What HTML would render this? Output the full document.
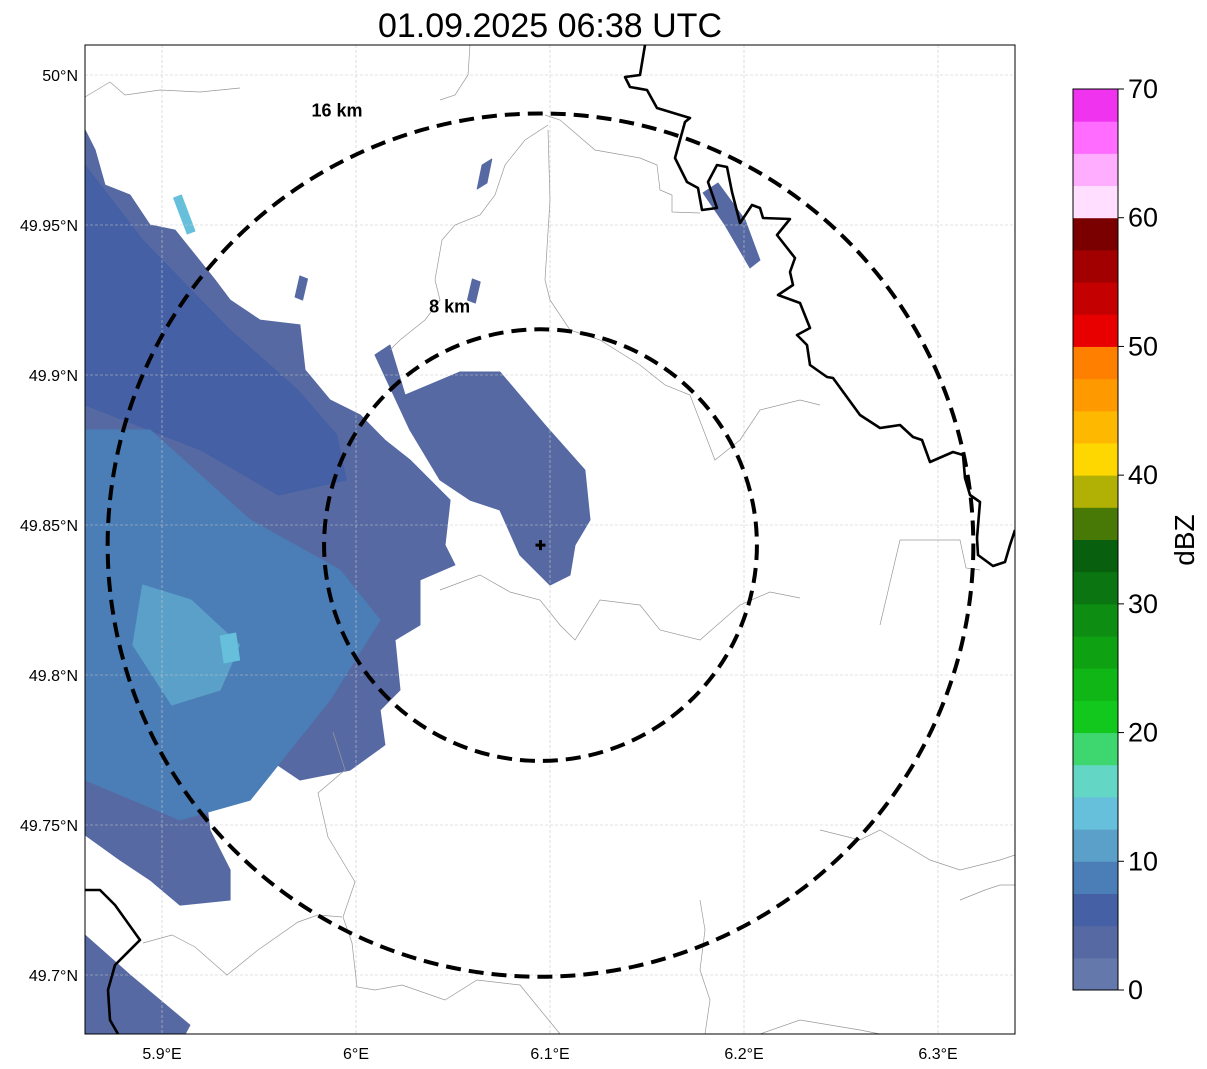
<!DOCTYPE html>
<html><head><meta charset="utf-8">
<style>
body{margin:0;background:#fff;width:1207px;height:1069px;overflow:hidden;font-family:"Liberation Sans",sans-serif;}
svg{position:absolute;left:0;top:0}
</style></head>
<body>
<svg id="chart" width="1207" height="1069" viewBox="0 0 1207 1069" xmlns="http://www.w3.org/2000/svg">
<text x="550" y="37" font-size="34" text-anchor="middle" font-family="Liberation Sans, sans-serif">01.09.2025 06:38 UTC</text>
<defs><clipPath id="mapclip"><rect x="85" y="45" width="930" height="989"/></clipPath></defs>
<g id="map" clip-path="url(#mapclip)"></g>
<rect x="85" y="45" width="930" height="989" fill="none" stroke="#000" stroke-width="1"/>
<g id="axes"></g>
<g id="cbar"></g>
</svg>
<script>
// ---- data ----
const lonTicks=[5.9,6.0,6.1,6.2,6.3];
const lonTickLabels=["5.9°E","6°E","6.1°E","6.2°E","6.3°E"];
const latTicks=[50,49.95,49.9,49.85,49.8,49.75,49.7];
const latTickLabels=["50°N","49.95°N","49.9°N","49.85°N","49.8°N","49.75°N","49.7°N"];
const cbarTicks=[0,10,20,30,40,50,60,70];
const cbarColors=["#6478ab","#5669a3","#4560a5","#4b7db6","#5aa0c8","#66c0dc","#63d6c6","#3ed76f","#13c81c","#10b516","#0ea212","#0e8d13","#0b7611","#08600e","#487906","#b0b005","#ffd700","#ffb800","#ff9900","#ff7f00","#e80000","#c40000","#a20000","#7a0000","#ffdeff","#ffadff","#ff6cff","#ef33ef"];
const radarCenter=[6.0951,49.8433];
const ringRadiiKm=[8,16];
// precipitation areas: dBZ values and lon/lat outlines
const areaValues=[3,3,3,3,6,8,11,3,3,3,14,14];
const areaLons=[
[5.8603,5.8655,5.8706,5.8835,5.8938,5.9067,5.9170,5.9273,5.9351,5.9505,5.9711,5.9737,5.9866,6.0021,6.0149,6.0278,6.0485,6.0459,6.0510,6.0330,6.0330,6.0201,6.0227,6.0124,6.0149,5.9969,5.9711,5.9557,5.9351,5.9222,5.9247,5.9351,5.9351,5.9093,5.8938,5.8784,5.8603],
[6.0098,6.0175,6.0253,6.0536,6.0742,6.0974,6.1180,6.1206,6.1129,6.1103,6.1000,6.0845,6.0742,6.0588,6.0433,6.0278],
[6.1789,6.1866,6.2005,6.2082,6.2031,6.1902],
[5.8603,5.8835,5.9144,5.9119,5.8603],
[5.8603,5.8900,5.9350,5.9700,5.9900,5.9950,5.9600,5.9200,5.8603],
[5.8603,5.8938,5.9454,5.9918,6.0124,5.9866,5.9454,5.9093,5.8603],
[5.8900,5.9150,5.9400,5.9300,5.9050,5.8850],
[6.0650,6.0700,6.0675,6.0625],
[5.9711,5.9750,5.9725,5.9686],
[6.0600,6.0640,6.0615,6.0575],
[5.9060,5.9100,5.9170,5.9130],
[5.9300,5.9380,5.9400,5.9320]
];
const areaLats=[
[49.9817,49.9750,49.9633,49.9600,49.9500,49.9483,49.9400,49.9317,49.9250,49.9183,49.9167,49.9017,49.8917,49.8867,49.8783,49.8717,49.8583,49.8433,49.8367,49.8317,49.8167,49.8117,49.7950,49.7883,49.7767,49.7683,49.7650,49.7717,49.7683,49.7617,49.7483,49.7350,49.7250,49.7233,49.7317,49.7383,49.7467],
[49.9067,49.9100,49.8933,49.9010,49.9010,49.8833,49.8683,49.8517,49.8433,49.8333,49.8300,49.8400,49.8550,49.8583,49.8650,49.8817],
[49.9607,49.9640,49.9517,49.9383,49.9357,49.9500],
[49.7133,49.7000,49.6833,49.6803,49.6803],
[49.9700,49.9450,49.9150,49.8950,49.8800,49.8650,49.8600,49.8750,49.8900],
[49.8817,49.8817,49.8517,49.8350,49.8183,49.7917,49.7583,49.7517,49.7650],
[49.8300,49.8250,49.8100,49.7950,49.7900,49.8100],
[49.9700,49.9720,49.9640,49.9620],
[49.9330,49.9320,49.9250,49.9260],
[49.9320,49.9310,49.9240,49.9250],
[49.9590,49.9600,49.9480,49.9470],
[49.8130,49.8140,49.8050,49.8040]
];
// ---- scales ----
const xOf=lon=>162+(lon-5.9)*1940;
const yOf=lat=>75+(50-lat)*3000;
const cbY=v=>990-(v/70)*901;
const NS="http://www.w3.org/2000/svg";
function mk(tag,parent,attrs){const e=document.createElementNS(NS,tag);for(const k in attrs)e.setAttribute(k,attrs[k]);parent.appendChild(e);return e;}
const map=document.getElementById('map');
const axes=document.getElementById('axes');
const cbar=document.getElementById('cbar');
function colorFor(v){return cbarColors[Math.max(0,Math.min(27,Math.floor(v/2.5)))];}
// precipitation
areaValues.forEach((v,i)=>{
  const pts=areaLons[i].map((lo,j)=>xOf(lo).toFixed(1)+','+yOf(areaLats[i][j]).toFixed(1)).join(' ');
  const p=mk('polygon',map,{points:pts,fill:colorFor(v),stroke:colorFor(v),'stroke-width':1,'stroke-linejoin':'round'});
  
  
});
// grid
lonTicks.forEach((t,i)=>{
  const g=mk('line',map,{x1:xOf(t),x2:xOf(t),y1:45,y2:1034,stroke:'#c8c8c8','stroke-width':0.6,'stroke-dasharray':'3,2'});
  
  
  const tx=mk('text',axes,{x:xOf(t),y:1059,'font-size':16,'text-anchor':'middle'});
  tx.textContent=lonTickLabels[i];
  
  
});
latTicks.forEach((t,i)=>{
  const g=mk('line',map,{x1:85,x2:1015,y1:yOf(t),y2:yOf(t),stroke:'#c8c8c8','stroke-width':0.6,'stroke-dasharray':'3,2'});
  
  
  const tx=mk('text',axes,{x:78,y:yOf(t)+6,'font-size':16,'text-anchor':'end'});
  tx.textContent=latTickLabels[i];
  
  
});
// gray admin borders (geography)
const grayPaths=[
"M85,97 L110,82 L125,95 L160,90 L200,92 L240,88",
"M470,45 L468,75 L455,95 L440,100",
"M548,125 L525,140 L505,165 L495,195 L480,215 L455,225 L442,240 L435,280 L440,300 L425,320 L400,340 L390,350",
"M545,115 L560,120 L595,150 L640,158 L657,165 L660,190 L672,195 L672,212 L700,213",
"M548,130 L550,200 L545,280 L550,300 L570,330 L600,340 L640,365 L665,385 L690,395 L715,460 L740,440 L760,410 L800,400 L820,405",
"M440,590 L480,575 L510,592 L540,600 L560,625 L575,640 L600,600 L640,605 L660,630 L700,640 L740,605 L770,592 L800,598",
"M333,732 L345,770 L318,793 L328,837 L355,882 L343,917 L352,943 L357,987 L375,990 L402,985 L445,1000 L477,980 L520,985 L560,1034",
"M143,943 L172,935 L195,947 L227,975 L258,950 L298,922 L318,915 L342,917",
"M705,1034 L710,1000 L700,970 L705,930 L700,900",
"M820,830 L860,840 L880,830 L930,860 L960,870 L1000,860 L1015,855",
"M760,1034 L800,1020 L860,1030 L880,1034",
"M880,625 L900,540 L960,540 L966,568 L980,570",
"M960,900 L985,890 L1000,885 L1015,885"
];
grayPaths.forEach(d=>{
  const p=mk('path',map,{d:d,fill:'none',stroke:'#999','stroke-width':0.7});
  
  
});
// country borders
const blackPaths=[
"M645,45 L640,75 L625,77 L630,87 L647,90 L657,108 L680,115 L690,118 L685,122 L675,158 L687,182 L698,188 L702,210 L717,208 L708,182 L717,165 L727,167 L732,192 L740,223 L752,205 L760,208 L763,218 L790,219 L777,235 L795,258 L790,272 L793,285 L778,295 L800,303 L810,328 L797,335 L807,345 L810,365 L827,377 L833,378 L860,415 L880,428 L900,425 L913,437 L922,440 L930,462 L953,452 L963,455 L965,478 L970,495 L980,502 L977,538 L978,555 L993,566 L1005,562 L1010,545 L1015,530",
"M85,890 L100,890 L115,905 L140,940 L115,965 L108,990 L110,1020 L118,1034"
];
blackPaths.forEach(d=>{
  const p=mk('path',map,{d:d,fill:'none',stroke:'#000','stroke-width':2.6,'stroke-linejoin':'round'});
  
  
});
// range rings
const kmPerDegLat=111.2;
ringRadiiKm.forEach((r,i)=>{
  const cx=xOf(radarCenter[0]),cy=yOf(radarCenter[1]);
  const ry=r/kmPerDegLat*3000;
  const rx=r/(kmPerDegLat*Math.cos(radarCenter[1]*Math.PI/180))*1940;
  const c=mk('ellipse',map,{cx:cx,cy:cy,rx:rx,ry:ry,fill:'none',stroke:'#000','stroke-width':4,'stroke-dasharray':'15,8'});
  
  
  const lx = r===16 ? cx-0.47*rx : cx-0.42*rx;
  const ly = r===16 ? cy-ry+3 : cy-ry-17;
  const t=mk('text',map,{x:lx,y:ly,'font-size':18,'font-weight':'bold','text-anchor':'middle'});
  t.textContent=r+' km';
  
  
});
// radar marker
{
  const cx=xOf(radarCenter[0]),cy=yOf(radarCenter[1]);
  const m=mk('path',map,{d:`M${cx-5},${cy} H${cx+5} M${cx},${cy-5} V${cy+5}`,stroke:'#000','stroke-width':3});
  
  
}
// colorbar
cbarColors.forEach((c,i)=>{
  const y1=cbY((i+1)*2.5),y0=cbY(i*2.5);
  const r=mk('rect',cbar,{x:1073,y:y1,width:45,height:y0-y1+0.5,fill:c});
  
  
});
{const f=mk('rect',cbar,{x:1073,y:89,width:45,height:901,fill:'none',stroke:'#000','stroke-width':1});

}
cbarTicks.forEach(t=>{
  const l=mk('line',cbar,{x1:1118,x2:1124,y1:cbY(t),y2:cbY(t),stroke:'#000','stroke-width':1});
  
  
  const tx=mk('text',cbar,{x:1128,y:cbY(t)+9,'font-size':27});
  tx.textContent=t;
  
  
});
{const lab=mk('text',cbar,{x:1194,y:540,'font-size':28,'text-anchor':'middle',transform:'rotate(-90 1194 540)'});
lab.textContent='dBZ';

}
</script>
</body></html>
